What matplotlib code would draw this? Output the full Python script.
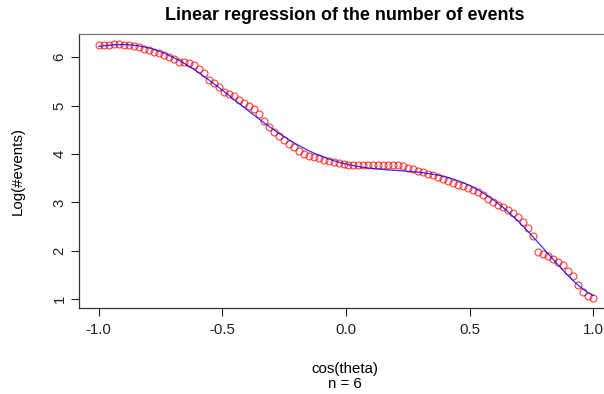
import numpy as np
import matplotlib
matplotlib.use("Agg")
import matplotlib.pyplot as plt

plt.rcParams['font.family'] = ['Liberation Sans', 'DejaVu Sans']

# cos(theta) bin centres and log of the event counts
cos_theta = np.linspace(-1.0, 1.0, 100)
log_events = [
    6.25, 6.26, 6.26, 6.27, 6.27, 6.26, 6.25, 6.23, 6.21, 6.17,
    6.15, 6.10, 6.08, 6.04, 6.00, 5.97, 5.91, 5.90, 5.89, 5.83,
    5.75, 5.67, 5.53, 5.46, 5.38, 5.28, 5.25, 5.19, 5.11, 5.05,
    5.00, 4.94, 4.82, 4.68, 4.56, 4.45, 4.37, 4.28, 4.20, 4.14,
    4.07, 4.01, 3.97, 3.94, 3.91, 3.87, 3.85, 3.83, 3.81, 3.79,
    3.78, 3.77, 3.77, 3.77, 3.78, 3.78, 3.78, 3.78, 3.77, 3.77,
    3.77, 3.75, 3.71, 3.69, 3.66, 3.63, 3.59, 3.56, 3.53, 3.49,
    3.44, 3.40, 3.37, 3.33, 3.29, 3.26, 3.21, 3.15, 3.08, 3.01,
    2.95, 2.90, 2.84, 2.78, 2.70, 2.60, 2.48, 2.30, 1.98, 1.94,
    1.89, 1.84, 1.77, 1.70, 1.59, 1.48, 1.30, 1.15, 1.06, 1.03,
]
degree = 6
x_ticks = [-1.0, -0.5, 0.0, 0.5, 1.0]
y_ticks = [1, 2, 3, 4, 5, 6]

# polynomial regression, like lm(y ~ poly(x, 6)) in R
coef = np.polyfit(cos_theta, log_events, degree)
fitted = np.polyval(coef, cos_theta)

W, H = 604, 394
fig = plt.figure(figsize=(W / 100, H / 100), dpi=100)
# the original plot box is cut off at the right edge of the picture
ax = fig.add_axes([79 / W, 1 - 308 / H, (W - 79) / W, (308 - 34) / H])

ax.plot(cos_theta, log_events, 'o', mfc='none', mec='red', ms=5, mew=0.8, alpha=0.75)
ax.plot(cos_theta, fitted, color='blue', lw=0.9, alpha=0.8)

ax.set_xlim(-1.08, 1.08 - 2.16 * (613 - W) / (613 - 79))
ymin, ymax = min(log_events), max(log_events)
pad = 0.04 * (ymax - ymin)
ax.set_ylim(ymin - pad, ymax + pad)
ax.set_xticks(x_ticks)
ax.set_xticklabels(['-1.0', '-0.5', '0.0', '0.5', '1.0'])
ax.set_yticks(y_ticks)
ax.set_yticklabels([str(v) for v in y_ticks], rotation=90, va='center')
ax.tick_params(direction='out', length=6, width=0.8, labelsize=10.8, colors='#222222')
ax.tick_params(axis='x', pad=5)
ax.tick_params(axis='y', pad=3)
for s in ax.spines.values():
    s.set_linewidth(0.9)
    s.set_color('#333333')
ax.spines['right'].set_visible(False)
ax.spines['top'].set_color('#777777')

fig.text(345 / W, 1 - 16 / H, "Linear regression of the number of events",
         ha='center', va='center', fontsize=12.9, fontweight='bold')
fig.text(345 / W, 1 - 369 / H, "cos(theta)", ha='center', va='center', fontsize=10.8)
fig.text(345 / W, 1 - 384 / H, "n = 6", ha='center', va='center', fontsize=10.8)
fig.text(18 / W, 1 - 171 / H, "Log(#events)", ha='center', va='center',
         rotation=90, fontsize=10.8)

fig.savefig("out.png", dpi=100, facecolor='white')
